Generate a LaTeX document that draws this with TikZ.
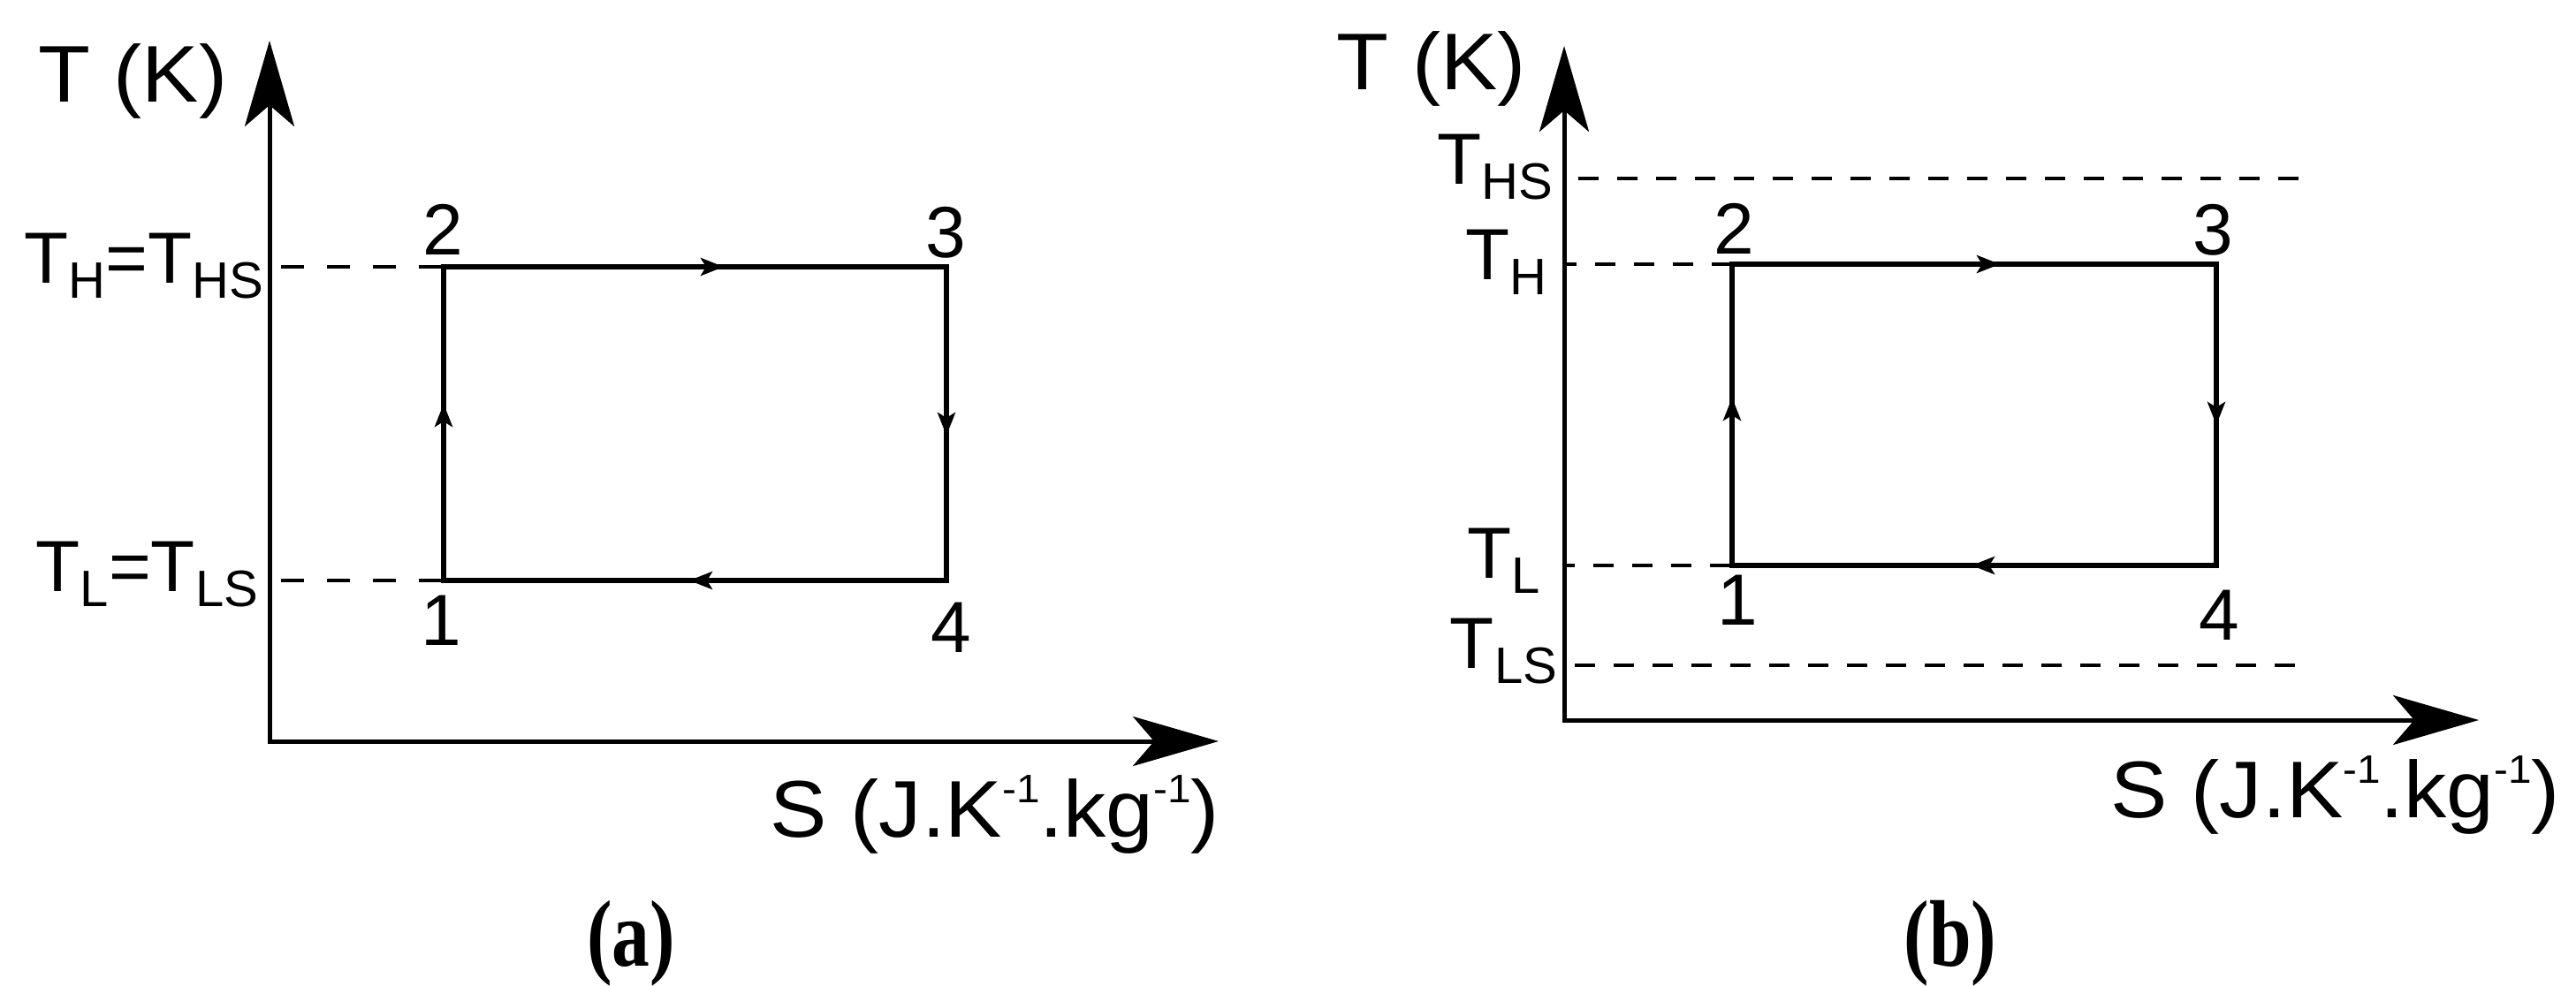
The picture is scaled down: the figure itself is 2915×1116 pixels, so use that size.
\documentclass[tikz,border=0pt]{standalone}
\usepackage{fontspec}
\usepackage{graphicx}
\setmainfont{Liberation Sans}
\newfontfamily\widesans[FakeStretch=1.06]{Liberation Sans}
\newfontfamily\capfont{Liberation Serif}
\usetikzlibrary{arrows.meta,decorations.markings}
\newcommand{\bigf}{\widesans\fontsize{91}{100}\selectfont}
\newcommand{\medf}{\fontsize{82}{90}\selectfont}
\newcommand{\lowsub}[1]{\raisebox{-17pt}{\fontsize{58}{60}\selectfont #1}}
\newcommand{\upsup}[1]{\raisebox{39pt}{\fontsize{45}{47}\selectfont #1}}
\tikzset{
  lbl/.style={inner sep=0pt, outer sep=0pt},
  axisline/.style={line width=5pt, line join=miter,
    {Stealth[length=97pt,width=56pt,inset=24pt]}-{Stealth[length=97pt,width=56pt,inset=24pt]}},
  cycleline/.style={line width=6.5pt, line join=miter},
  guide/.style={line width=4pt},
  smallhead/.tip={Stealth[length=26pt,width=20pt,inset=6pt]},
}
\begin{document}
\begin{tikzpicture}[x=1pt,y=-1pt]
\useasboundingbox (0,0) rectangle (2915,1116);

% ================= panel (a) =================
\coordinate (aytip) at (305,46);
\coordinate (ao) at (305,839);
\coordinate (axtip) at (1379,839);
\coordinate (ahy) at (305,302);
\coordinate (aly) at (305,657);
\coordinate (a1) at (502,657);
\coordinate (a2) at (502,302);
\coordinate (a3) at (1071,302);
\coordinate (a4) at (1071,657);

\draw[guide, dash pattern=on 26pt off 26pt, dash phase=39pt] (ahy) -- (a2);
\draw[guide, dash pattern=on 26pt off 26pt, dash phase=39pt] (aly) -- (a1);
\draw[axisline] (aytip) -- (ao) -- (axtip);
\draw[cycleline, postaction={decorate}, decoration={markings,
   mark=at position 200pt with {\arrow{smallhead}},
   mark=at position 672pt with {\arrow{smallhead}},
   mark=at position 1115pt with {\arrow{smallhead}},
   mark=at position 1570pt with {\arrow{smallhead}}}]
   (a1) -- (a2) -- (a3) -- (a4) -- cycle;

\node[lbl, font=\bigf, anchor=base west] (atk) at (43,115) {T (K)};
\node[lbl, font=\medf, anchor=base east] (ath) at (298,320) {T\lowsub{H}=T\lowsub{HS}};
\node[lbl, font=\medf, anchor=base east] (atl) at (292,669) {T\lowsub{L}=T\lowsub{LS}};
\node[lbl, font=\medf, anchor=base] (an2) at (501,288) {2};
\node[lbl, font=\medf, anchor=base] (an3) at (1070,291) {3};
\node[lbl, font=\medf, anchor=base] (an1) at (499,730) {1};
\node[lbl, font=\medf, anchor=base] (an4) at (1076,738) {4};
\node[lbl, font=\bigf, anchor=base east] (asx) at (1380,947) {S (J.K\upsup{-1}.kg\upsup{-1})};
\node[lbl, anchor=base] (acap) at (714,1093) {\scalebox{0.8}[1]{\capfont\bfseries\fontsize{107}{110}\selectfont (a)}};

% ================= panel (b) =================
\coordinate (bytip) at (1770,52);
\coordinate (bo) at (1770,815);
\coordinate (bxtip) at (2805,815);
\coordinate (bhsy) at (1770,202);
\coordinate (bhse) at (2612,202);
\coordinate (bhy) at (1770,299);
\coordinate (bly) at (1770,640);
\coordinate (blsy) at (1770,753);
\coordinate (blse) at (2608,753);
\coordinate (b1) at (1960,640);
\coordinate (b2) at (1960,299);
\coordinate (b3) at (2508,299);
\coordinate (b4) at (2508,640);

\draw[guide, dash pattern=on 23pt off 21pt, dash phase=28pt] (bhsy) -- (bhse);
\draw[guide, dash pattern=on 23pt off 21pt, dash phase=9pt] (bhy) -- (b2);
\draw[guide, dash pattern=on 23pt off 21pt, dash phase=11pt] (bly) -- (b1);
\draw[guide, dash pattern=on 23pt off 21pt, dash phase=32pt] (blsy) -- (blse);
\draw[axisline] (bytip) -- (bo) -- (bxtip);
\draw[cycleline, postaction={decorate}, decoration={markings,
   mark=at position 190pt with {\arrow{smallhead}},
   mark=at position 644pt with {\arrow{smallhead}},
   mark=at position 1071pt with {\arrow{smallhead}},
   mark=at position 1507pt with {\arrow{smallhead}}}]
   (b1) -- (b2) -- (b3) -- (b4) -- cycle;

\node[lbl, font=\bigf, anchor=base east] (btk) at (1727,101) {T (K)};
\node[lbl, font=\medf, anchor=base east] (bths) at (1757,208) {T\lowsub{HS}};
\node[lbl, font=\medf, anchor=base east] (bth) at (1750,316) {T\lowsub{H}};
\node[lbl, font=\medf, anchor=base east] (btl) at (1743,654) {T\lowsub{L}};
\node[lbl, font=\medf, anchor=base east] (btls) at (1762,756) {T\lowsub{LS}};
\node[lbl, font=\medf, anchor=base] (bn2) at (1962,287) {2};
\node[lbl, font=\medf, anchor=base] (bn3) at (2504,288) {3};
\node[lbl, font=\medf, anchor=base] (bn1) at (1966,707) {1};
\node[lbl, font=\medf, anchor=base] (bn4) at (2511,724) {4};
\node[lbl, font=\bigf, anchor=base east] (bsx) at (2897,925) {S (J.K\upsup{-1}.kg\upsup{-1})};
\node[lbl, anchor=base] (bcap) at (2207,1093) {\scalebox{0.8}[1]{\capfont\bfseries\fontsize{107}{110}\selectfont (b)}};
\end{tikzpicture}
\end{document}
